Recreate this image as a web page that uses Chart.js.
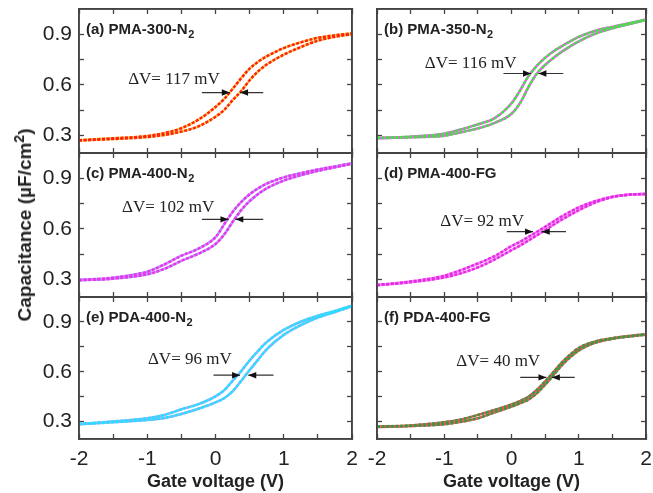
<!DOCTYPE html>
<html>
<head>
<meta charset="utf-8">
<script src="https://cdn.jsdelivr.net/npm/chart.js@4.4.1/dist/chart.umd.min.js"></script>
<style>
    body { margin: 0; background: #fff; }
    #wrap { position: relative; width: 653px; height: 493px; overflow: hidden; }
    #wrap canvas { position: absolute; }
    #ytitle {
        position: absolute; left: 25px; top: 225px;
        transform: translate(-50%, -50%) rotate(-90deg);
        white-space: nowrap; color: #222;
        font: bold 19px "Liberation Sans", Arial, sans-serif;
    }
    #ytitle sup { font-size: 14px; vertical-align: 7px; line-height: 0; }
</style>
</head>
<body>
<div id="wrap">
    <canvas id="pa"></canvas>
    <canvas id="pb"></canvas>
    <canvas id="pc"></canvas>
    <canvas id="pd"></canvas>
    <canvas id="pe"></canvas>
    <canvas id="pf"></canvas>
    <div id="ytitle">Capacitance (&micro;F/cm<sup>2</sup>)</div>
</div>
<script>
// Gate voltage (V), shared by all panels
var gateVoltage = [-2, -1.5, -1, -0.75, -0.5, -0.25, 0, 0.125, 0.25, 0.375, 0.5, 0.625, 0.75, 1, 1.25, 1.5, 1.75, 2];

// Capacitance (uF/cm2), two sweeps per sample
var pma300N2Up   = [0.271, 0.282, 0.296, 0.313, 0.342, 0.393, 0.468, 0.515, 0.575, 0.638, 0.696, 0.737, 0.769, 0.818, 0.852, 0.879, 0.894, 0.905];
var pma300N2Down = [0.269, 0.278, 0.290, 0.302, 0.322, 0.353, 0.410, 0.450, 0.508, 0.562, 0.627, 0.680, 0.720, 0.779, 0.824, 0.862, 0.885, 0.900];

var pma350N2Up   = [0.285, 0.292, 0.310, 0.335, 0.365, 0.402, 0.490, 0.565, 0.650, 0.712, 0.760, 0.799, 0.830, 0.884, 0.921, 0.944, 0.965, 0.988];
var pma350N2Down = [0.283, 0.288, 0.297, 0.318, 0.341, 0.374, 0.428, 0.490, 0.585, 0.665, 0.718, 0.760, 0.797, 0.858, 0.904, 0.935, 0.960, 0.985];

var pma400N2Up   = [0.296, 0.310, 0.345, 0.388, 0.440, 0.482, 0.550, 0.625, 0.700, 0.758, 0.805, 0.840, 0.868, 0.905, 0.930, 0.952, 0.970, 0.989];
var pma400N2Down = [0.294, 0.304, 0.330, 0.362, 0.410, 0.452, 0.510, 0.565, 0.640, 0.710, 0.764, 0.806, 0.840, 0.886, 0.918, 0.944, 0.965, 0.986];

var pma400FGUp   = [0.266, 0.287, 0.321, 0.355, 0.394, 0.438, 0.497, 0.522, 0.551, 0.581, 0.612, 0.643, 0.674, 0.727, 0.765, 0.790, 0.803, 0.807];
var pma400FGDown = [0.265, 0.283, 0.311, 0.336, 0.371, 0.418, 0.473, 0.500, 0.530, 0.561, 0.592, 0.624, 0.655, 0.710, 0.757, 0.788, 0.802, 0.806];

var pda400N2Up   = [0.286, 0.300, 0.320, 0.340, 0.374, 0.405, 0.452, 0.488, 0.545, 0.603, 0.668, 0.726, 0.778, 0.852, 0.901, 0.937, 0.966, 0.998];
var pda400N2Down = [0.284, 0.296, 0.310, 0.322, 0.346, 0.377, 0.415, 0.440, 0.482, 0.544, 0.610, 0.673, 0.735, 0.822, 0.881, 0.926, 0.960, 0.994];

var pda400FGUp   = [0.270, 0.277, 0.296, 0.313, 0.340, 0.370, 0.403, 0.423, 0.449, 0.490, 0.542, 0.598, 0.656, 0.743, 0.783, 0.802, 0.815, 0.826];
var pda400FGDown = [0.268, 0.273, 0.284, 0.299, 0.320, 0.355, 0.390, 0.410, 0.432, 0.470, 0.522, 0.580, 0.640, 0.728, 0.775, 0.798, 0.812, 0.823];

// ticks
var xTickValues = [-2, -1.5, -1, -0.5, 0, 0.5, 1, 1.5, 2];
var yTickValues = [0.3, 0.45, 0.6, 0.75, 0.9];

// texts
var panelNames = ['(a) PMA-300-N', '(b) PMA-350-N', '(c) PMA-400-N', '(d) PMA-400-FG', '(e) PDA-400-N', '(f) PDA-400-FG'];
var panelSubs = ['2', '2', '2', '', '2', ''];
var deltaTexts = ['\u0394V= 117 mV', '\u0394V= 116 mV', '\u0394V= 102 mV', '\u0394V= 92 mV', '\u0394V= 96 mV', '\u0394V= 40 mV'];

Chart.defaults.font.family = '"Liberation Sans", Arial, sans-serif';
Chart.defaults.color = '#222';

var FRAME = '#444';

// canvas box + axis sizes, colours and arrow placement (data units)
var panels = [
    { id: 'pa', box: [0, 0, 362, 160], sides: [79, 10, 9, 7], up: pma300N2Up, down: pma300N2Down,
      main: '#ff1f1f', second: '#ffd23a', text: [-1.28, 0.603], arrow: [0.554, -0.2, 0.7, 0.21, 0.36] },
    { id: 'pb', box: [362, 0, 291, 160], sides: [15, 7, 9, 7], up: pma350N2Up, down: pma350N2Down,
      main: '#3ee63e', second: '#ff4cff', text: [-1.29, 0.701], arrow: [0.667, -0.12, 0.77, 0.29, 0.40] },
    { id: 'pc', box: [0, 146, 362, 158], sides: [79, 10, 7, 7], up: pma400N2Up, down: pma400N2Down,
      main: '#ee33ee', second: '#b49cff', text: [-1.37, 0.702], arrow: [0.656, -0.2, 0.7, 0.19, 0.29] },
    { id: 'pd', box: [362, 146, 291, 158], sides: [15, 7, 7, 7], up: pma400FGUp, down: pma400FGDown,
      main: '#e22ee2', second: '#ff8cff', text: [-1.06, 0.617], arrow: [0.583, -0.07, 0.81, 0.32, 0.45] },
    { id: 'pe', box: [0, 290, 362, 203], sides: [79, 10, 7, 54], up: pda400N2Up, down: pda400N2Down,
      main: '#1ee4ff', second: '#9aa8ff', text: [-0.99, 0.644], arrow: [0.579, -0.03, 0.85, 0.36, 0.48] },
    { id: 'pf', box: [362, 290, 291, 203], sides: [15, 7, 7, 54], up: pda400FGUp, down: pda400FGDown,
      main: '#3a9a3a', second: '#ff4a6a', text: [-0.82, 0.634], arrow: [0.566, 0.13, 0.94, 0.52, 0.60] }
];

function curve(values, color, dashed) {
    return {
        data: values.map(function (v, i) { return { x: gateVoltage[i], y: v }; }),
        borderColor: color,
        borderWidth: 2.5,
        borderDash: dashed ? [3, 1.6] : [],
        pointRadius: 0,
        cubicInterpolationMode: 'monotone',
        order: dashed ? 0 : 1
    };
}

function decor(idx, p) {
    return {
        id: 'decor' + idx,
        afterDraw: function (chart) {
            var ctx = chart.ctx, area = chart.chartArea;
            var xs = chart.scales.x, ys = chart.scales.y;
            ctx.save();
            // frame
            ctx.strokeStyle = FRAME;
            ctx.lineWidth = 1.6;
            ctx.strokeRect(area.left, area.top, area.right - area.left, area.bottom - area.top);

            ctx.fillStyle = '#222';
            ctx.textBaseline = 'alphabetic';
            ctx.textAlign = 'left';
            // panel label
            var lx = area.left + 7, ly = area.top + 25;
            ctx.font = 'bold 15px "Liberation Sans", Arial, sans-serif';
            ctx.fillText(panelNames[idx], lx, ly);
            if (panelSubs[idx]) {
                var w = ctx.measureText(panelNames[idx]).width;
                ctx.font = 'bold 11px "Liberation Sans", Arial, sans-serif';
                ctx.fillText(panelSubs[idx], lx + w + 0.5, ly + 4);
            }
            // delta V text
            ctx.font = '17px "Liberation Serif", "Times New Roman", serif';
            ctx.fillText(deltaTexts[idx], xs.getPixelForValue(p.text[0]), ys.getPixelForValue(p.text[1]));
            // arrows
            var ay = ys.getPixelForValue(p.arrow[0]);
            var x1 = xs.getPixelForValue(p.arrow[1]), x2 = xs.getPixelForValue(p.arrow[2]);
            var tl = xs.getPixelForValue(p.arrow[3]), tr = xs.getPixelForValue(p.arrow[4]);
            ctx.strokeStyle = '#333';
            ctx.lineWidth = 1.2;
            ctx.beginPath();
            ctx.moveTo(x1, ay); ctx.lineTo(tl, ay);
            ctx.moveTo(tr, ay); ctx.lineTo(x2, ay);
            ctx.stroke();
            ctx.fillStyle = '#111';
            ctx.beginPath();
            ctx.moveTo(tl, ay); ctx.lineTo(tl - 8, ay - 3.2); ctx.lineTo(tl - 8, ay + 3.2); ctx.closePath();
            ctx.moveTo(tr, ay); ctx.lineTo(tr + 8, ay - 3.2); ctx.lineTo(tr + 8, ay + 3.2); ctx.closePath();
            ctx.fill();
            ctx.restore();
        }
    };
}

function axisBase(isX, size) {
    return {
        type: 'linear',
        min: isX ? -2 : 0.195,
        max: isX ? 2 : 1.05,
        afterBuildTicks: function (s) {
            s.ticks = (isX ? xTickValues : yTickValues).map(function (v) { return { value: v }; });
        },
        grid: { drawOnChartArea: false, drawTicks: true, tickLength: -5, tickColor: FRAME, tickWidth: 1.3 },
        border: { color: FRAME, width: 1.6 },
        afterFit: function (s) {
            if (isX) { s.height = size; } else { s.width = size; }
            // keep tick labels from shrinking the plot area
            s.paddingTop = 0; s.paddingBottom = 0; s.paddingLeft = 0; s.paddingRight = 0;
        }
    };
}

panels.forEach(function (p, idx) {
    var cv = document.getElementById(p.id);
    cv.width = p.box[2];
    cv.height = p.box[3];
    cv.style.left = p.box[0] + 'px';
    cv.style.top = p.box[1] + 'px';

    var leftCol = (idx % 2 === 0);
    var bottomRow = (idx >= 4);

    var x = axisBase(true, p.sides[3]);
    x.position = 'bottom';
    x.ticks = {
        display: bottomRow, autoSkip: false, maxRotation: 0, padding: 13,
        font: { size: 21 }, color: '#222',
        callback: function (v) { return Number.isInteger(v) ? String(v) : ''; }
    };
    x.title = { display: bottomRow, text: 'Gate voltage (V)', font: { size: 18, weight: 'bold' }, color: '#222', padding: { top: 0, bottom: 0 } };

    var x2 = axisBase(true, p.sides[2]);
    x2.position = 'top';
    x2.ticks = { display: false };

    var y = axisBase(false, p.sides[0]);
    y.position = 'left';
    y.ticks = {
        display: leftCol, autoSkip: false, padding: 12,
        font: { size: 21 }, color: '#222',
        callback: function (v) { return Math.abs(v * 10 - Math.round(v * 10)) < 1e-6 ? v.toFixed(1) : ''; }
    };

    var y2 = axisBase(false, p.sides[1]);
    y2.position = 'right';
    y2.ticks = { display: false };

    new Chart(cv, {
        type: 'line',
        data: {
            datasets: [
                curve(p.up, p.main, true),
                curve(p.down, p.main, true),
                curve(p.up, p.second, false),
                curve(p.down, p.second, false)
            ]
        },
        options: {
            responsive: false,
            animation: false,
            devicePixelRatio: 1,
            layout: { padding: 0 },
            plugins: { legend: { display: false }, tooltip: { enabled: false } },
            scales: { x: x, x2: x2, y: y, y2: y2 }
        },
        plugins: [decor(idx, p)]
    });
});
</script>
</body>
</html>
